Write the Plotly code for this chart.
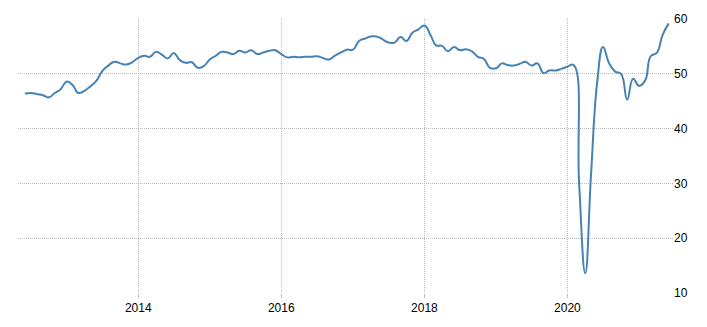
import pandas as pd
import plotly.graph_objects as go

start_month = "2012-06-01"
values_2012 = [46.4, 46.5, 46.3, 46.1, 45.7, 46.5, 47.2]
values_2013 = [48.6, 47.9, 46.5, 46.9, 47.7, 48.7, 50.5, 51.5, 52.2, 51.9, 51.7, 52.1]
values_2014 = [52.9, 53.3, 53.1, 54.0, 53.5, 52.8, 53.8, 52.5, 52.0, 52.1, 51.1, 51.4]
values_2015 = [52.6, 53.3, 54.0, 53.9, 53.6, 54.2, 53.9, 54.3, 53.6, 53.9, 54.2, 54.3]
values_2016 = [53.6, 53.0, 53.1, 53.0, 53.1, 53.1, 53.2, 52.9, 52.6, 53.3, 53.9, 54.4]
values_2017 = [54.4, 56.0, 56.4, 56.8, 56.8, 56.3, 55.7, 55.7, 56.7, 56.0, 57.5, 58.1]
values_2018 = [58.8, 57.1, 55.2, 55.1, 54.1, 54.9, 54.3, 54.5, 54.1, 53.1, 52.7, 51.1]
values_2019 = [51.0, 51.9, 51.6, 51.5, 51.8, 52.2, 51.5, 51.9, 50.1, 50.6, 50.6, 50.9]
values_2020 = [51.3, 51.6, 29.7, 13.6, 31.9, 48.5, 54.9, 51.9, 50.4, 50.0, 45.3, 49.1]
values_2021 = [47.8, 48.8, 53.2, 53.8, 57.1, 59.2]

y_ticks = [10, 20, 30, 40, 50, 60]
x_tick_labels = ["2014", "2016", "2018", "2020"]

values = (values_2012 + values_2013 + values_2014 + values_2015 + values_2016
          + values_2017 + values_2018 + values_2019 + values_2020 + values_2021)
dates = pd.date_range(start_month, periods=len(values), freq="MS")

fig = go.Figure()
fig.add_trace(go.Scatter(
    x=dates, y=values, mode="lines",
    line=dict(color="#4682b4", width=2, shape="spline", smoothing=1.3),
    hoverinfo="skip", showlegend=False,
))

grid = "#bbbbbb"
fig.update_layout(
    width=707, height=327,
    margin=dict(l=18, r=34, t=17, b=25),
    paper_bgcolor="white", plot_bgcolor="white",
    font=dict(family="Liberation Sans, Arial, sans-serif", size=12, color="#000000"),
    xaxis=dict(
        type="date",
        range=["2012-04-27", "2021-06-23"],
        tickvals=[f"{y}-01-01" for y in x_tick_labels],
        ticktext=x_tick_labels,
        showgrid=True, gridcolor=grid, griddash="1px,1px", gridwidth=1,
        ticks="outside", ticklen=4, tickcolor=grid,
        showline=False, zeroline=False,
    ),
    yaxis=dict(
        side="right",
        range=[10, 60],
        tickvals=y_ticks,
        showgrid=True, gridcolor=grid, griddash="1px,1px", gridwidth=1,
        ticks="", showline=False, zeroline=False,
    ),
)

fig.write_html("out.html")
